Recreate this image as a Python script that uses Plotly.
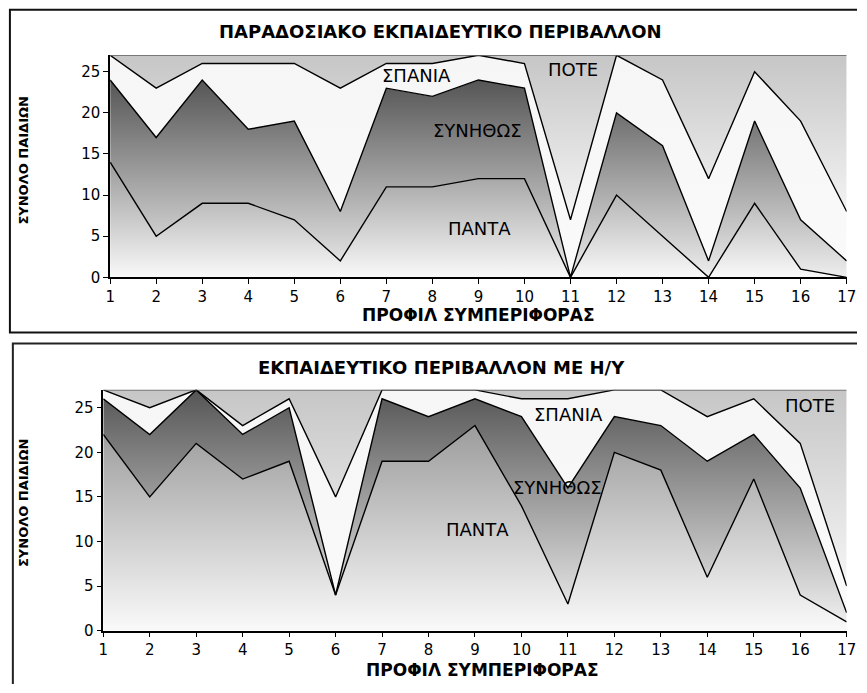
import numpy as np
import plotly.graph_objects as go

W, H = 867, 693

categories = list(range(1, 18))
series_names = ["ΠΑΝΤΑ", "ΣΥΝΗΘΩΣ", "ΣΠΑΝΙΑ", "ΠΟΤΕ"]
y_ticks = [0, 5, 10, 15, 20, 25]

# Chart 1: traditional environment (children per behaviour profile)
trad_panta = [14, 5, 9, 9, 7, 2, 11, 11, 12, 12, 0, 10, 5, 0, 9, 1, 0]
trad_synithos = [10, 12, 15, 9, 12, 6, 12, 11, 12, 11, 0, 10, 11, 2, 10, 6, 2]
trad_spania = [3, 6, 2, 8, 7, 15, 3, 4, 3, 3, 7, 7, 8, 10, 6, 12, 6]
trad_pote = [0, 4, 1, 1, 1, 4, 1, 1, 0, 1, 20, 0, 3, 15, 2, 8, 19]

# Chart 2: environment with computers
pc_panta = [22, 15, 21, 17, 19, 4, 19, 19, 23, 14, 3, 20, 18, 6, 17, 4, 1]
pc_synithos = [4, 7, 6, 5, 6, 0, 7, 5, 3, 10, 13, 4, 5, 13, 5, 12, 1]
pc_spania = [1, 3, 0, 1, 1, 11, 1, 3, 1, 2, 10, 3, 4, 5, 4, 5, 3]
pc_pote = [0, 2, 0, 4, 1, 12, 0, 0, 0, 1, 1, 0, 0, 3, 1, 6, 22]

title_top = "ΠΑΡΑΔΟΣΙΑΚΟ ΕΚΠΑΙΔΕΥΤΙΚΟ ΠΕΡΙΒΑΛΛΟΝ"
title_bottom = "ΕΚΠΑΙΔΕΥΤΙΚΟ ΠΕΡΙΒΑΛΛΟΝ ΜΕ Η/Υ"
x_title = "ΠΡΟΦΙΛ ΣΥΜΠΕΡΙΦΟΡΑΣ"
y_title = "ΣΥΝΟΛΟ ΠΑΙΔΙΩΝ"

# gradient (light, dark) per series
grad_colors = [("#fbfbfb", "#9c9c9c"), ("#f0f0f0", "#555555"),
               ("#fafafa", "#f6f6f6"), ("#f6f6f6", "#c6c6c6")]
line_colors = ["#000000", "#000000", "#000000", "#555555"]


def px_x(p):
    return p / W


def px_y(p):
    return 1 - p / H


fig = go.Figure()

charts = [
    dict(data=[trad_panta, trad_synithos, trad_spania, trad_pote], xa="x", ya="y",
         group="a"),
    dict(data=[pc_panta, pc_synithos, pc_spania, pc_pote], xa="x2", ya="y2",
         group="b"),
]

for ch in charts:
    arr = np.array(ch["data"], dtype=float)
    cum = np.cumsum(arr, axis=0)
    for i, name in enumerate(series_names):
        lower = cum[i - 1] if i > 0 else np.zeros(arr.shape[1])
        upper = cum[i]
        light, dark = grad_colors[i]
        fig.add_trace(go.Scatter(
            x=categories, y=ch["data"][i], name=name,
            stackgroup=ch["group"], mode="lines",
            line=dict(color=line_colors[i], width=1.4),
            fillgradient=dict(type="vertical",
                              colorscale=[[0, light], [1, dark]],
                              start=float(lower.min()), stop=float(upper.max())),
            xaxis=ch["xa"], yaxis=ch["ya"], showlegend=False,
            hoverinfo="skip",
        ))

axis_font = dict(family="DejaVu Sans", size=15, color="#000")
common_x = dict(range=[1, 17], tickvals=categories, showgrid=False, zeroline=False,
                showline=True, linecolor="#000", linewidth=1.5, ticks="outside",
                ticklen=5, tickcolor="#000", tickwidth=1.2, tickfont=axis_font)
common_y = dict(range=[0, 27], tickvals=y_ticks, showgrid=False, zeroline=False,
                showline=True, linecolor="#000", linewidth=1.5, ticks="outside",
                ticklen=5, tickcolor="#000", tickwidth=1.2, tickfont=axis_font)

fig.update_layout(
    width=W, height=H, autosize=False,
    margin=dict(l=0, r=0, t=0, b=0),
    paper_bgcolor="white", plot_bgcolor="rgba(0,0,0,0)",
    xaxis=dict(domain=[px_x(107), px_x(856.5)], anchor="y", **common_x),
    yaxis=dict(domain=[px_y(281), px_y(56)], anchor="x", **common_y),
    xaxis2=dict(domain=[px_x(100), px_x(856.5)], anchor="y2", **common_x),
    yaxis2=dict(domain=[px_y(639), px_y(395)], anchor="x2", **common_y),
)


def frame_path(x_left, y_top, y_bottom=None):
    """Open frame: the right side (and bottom if None) lie past the picture edge."""
    xl, xr = px_x(x_left), 1.0
    yt = px_y(y_top)
    if y_bottom is None:
        return f"M {xr},{yt} L {xl},{yt} L {xl},0"
    yb = px_y(y_bottom)
    return f"M {xr},{yt} L {xl},{yt} L {xl},{yb} L {xr},{yb}"


shapes = [
    dict(type="path", xref="paper", yref="paper", path=frame_path(5, 10, 337),
         line=dict(color="#111", width=2)),
    dict(type="path", xref="paper", yref="paper", path=frame_path(8, 348),
         line=dict(color="#222", width=2)),
]

ann = []
title_font = dict(family="DejaVu Sans", size=18, color="#000", weight="bold")
xt_font = dict(family="DejaVu Sans", size=17, color="#000", weight="bold")
yt_font = dict(family="DejaVu Sans", size=13, color="#000", weight="bold")
lab_font = dict(family="DejaVu Sans", size=18, color="#000")

for title, tx, ty in [(title_top, 443, 32), (title_bottom, 444, 372)]:
    ann.append(dict(text=title, xref="paper", yref="paper", x=px_x(tx), y=px_y(ty),
                    showarrow=False, font=title_font, xanchor="center", yanchor="middle"))
for tx, ty in [(482, 319), (486, 679)]:
    ann.append(dict(text=x_title, xref="paper", yref="paper", x=px_x(tx), y=px_y(ty),
                    showarrow=False, font=xt_font, xanchor="center", yanchor="middle"))
for tx, ty in [(19, 163), (19, 510)]:
    ann.append(dict(text=y_title, xref="paper", yref="paper", x=px_x(tx), y=px_y(ty),
                    showarrow=False, font=yt_font, textangle=-90,
                    xanchor="center", yanchor="middle"))

label_pos_top = [(9.02, 6.0), (8.98, 17.9), (7.66, 24.5), (11.06, 25.3)]
label_pos_bottom = [(9.05, 11.4), (10.78, 16.0), (11.01, 24.2), (16.22, 25.3)]
for (xr, yr), pos in [(("x", "y"), label_pos_top), (("x2", "y2"), label_pos_bottom)]:
    for name, (lx, ly) in zip(series_names, pos):
        ann.append(dict(text=name, xref=xr, yref=yr, x=lx, y=ly, showarrow=False,
                        font=lab_font, xanchor="center", yanchor="middle"))

fig.update_layout(shapes=shapes, annotations=ann)

post = "document.body.style.margin='0';document.body.style.overflow='hidden';"

fig.write_html("out.html", config={"displayModeBar": False}, post_script=post)
